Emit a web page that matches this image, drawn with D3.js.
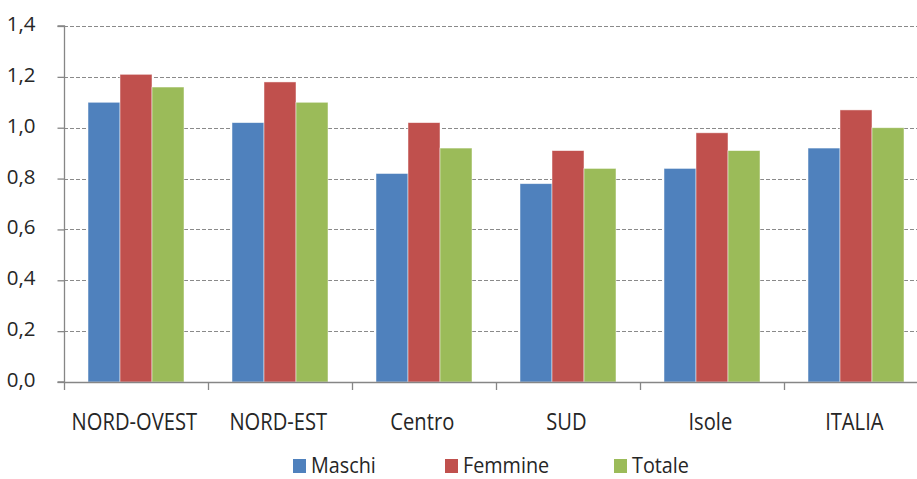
<!DOCTYPE html>
<html>
<head>
<meta charset="utf-8">
<script src="https://cdn.jsdelivr.net/npm/d3@7"></script>
<style>
  html, body { margin: 0; padding: 0; background: #fff; }
  svg { display: block; }
  text { font-family: "Open Sans", "Noto Sans", sans-serif; fill: #262626; }
</style>
</head>
<body>
<svg id="chart" width="917" height="479"></svg>
<script>
// Regions and series values
const categories = ["NORD-OVEST", "NORD-EST", "Centro", "SUD", "Isole", "ITALIA"];
const seriesNames = ["Maschi", "Femmine", "Totale"];
const maschi  = [1.10, 1.02, 0.82, 0.78, 0.84, 0.92];
const femmine = [1.21, 1.18, 1.02, 0.91, 0.98, 1.07];
const totale  = [1.16, 1.10, 0.92, 0.84, 0.91, 1.00];
const yTicks = [0, 0.2, 0.4, 0.6, 0.8, 1.0, 1.2, 1.4];
const colors = ["#4F81BD", "#C0504D", "#9BBB59"];

const series = [maschi, femmine, totale];
const svg = d3.select("#chart");

// The last category runs past the right edge of the frame
const x = d3.scaleBand().domain(categories).range([64, 928]);
const inner = d3.scaleBand().domain(seriesNames).range([0, x.bandwidth()]).paddingOuter(0.75).paddingInner(0);
const y = d3.scaleLinear().domain([0, 1.4]).range([382, 26]);

const fmt = d => d3.format(".1f")(d).replace(".", ",");

// Dashed gridlines
svg.append("g")
  .selectAll("line")
  .data(yTicks.filter(d => d > 0))
  .join("line")
  .attr("x1", 64).attr("x2", 917)
  .attr("y1", d => Math.round(y(d)) + 0.5).attr("y2", d => Math.round(y(d)) + 0.5)
  .attr("stroke", "#8a8a8a").attr("stroke-width", 1.2)
  .attr("stroke-dasharray", "4,2");

// Bars
const groups = svg.append("g")
  .selectAll("g")
  .data(categories)
  .join("g")
  .attr("transform", d => `translate(${x(d)},0)`);

groups.selectAll("rect")
  .data((c, i) => seriesNames.map((s, k) => ({ s, k, v: series[k][i] })))
  .join("rect")
  .attr("x", d => inner(d.s))
  .attr("width", inner.bandwidth())
  .attr("y", d => y(d.v))
  .attr("height", d => y(0) - y(d.v))
  .attr("fill", d => colors[d.k])
  .attr("stroke", "rgba(255,255,255,0.6)")
  .attr("stroke-width", 0.8);

// Y axis
const yAxis = d3.axisLeft(y).tickValues(yTicks).tickFormat(fmt).tickSize(7).tickPadding(22);
const gy = svg.append("g").attr("transform", "translate(64.5,0)").call(yAxis);
gy.select(".domain").attr("stroke", "#868686").attr("stroke-width", 1.3).attr("d", `M-7,${y(1.4)}H0V${y(0)}H-7`);
gy.selectAll(".tick line").attr("stroke", "#868686").attr("stroke-width", 1.3);
gy.selectAll(".tick text").attr("font-size", 20.5).attr("dy", "0.22em")
  .attr("font-family", "Open Sans, sans-serif").attr("fill", "#262626");

// X axis
const xAxis = d3.axisBottom(x).tickSize(0).tickPadding(0);
const gx = svg.append("g").attr("transform", "translate(0,382.5)").call(xAxis);
gx.select(".domain").attr("stroke", "#868686").attr("stroke-width", 1.3).attr("d", "M64,0H917");
gx.selectAll(".tick text").attr("font-size", 24).attr("y", 48).attr("dy", 0).attr("x", -2)
  .attr("transform", "scale(0.84,1)")
  .attr("font-family", "Open Sans, sans-serif").attr("fill", "#262626");
// Category separators
svg.append("g")
  .selectAll("line")
  .data(categories)
  .join("line")
  .attr("x1", d => Math.round(x(d)) + 0.5).attr("x2", d => Math.round(x(d)) + 0.5)
  .attr("y1", 382).attr("y2", 390)
  .attr("stroke", "#868686").attr("stroke-width", 1.3);

// Legend
const legendX = [293, 445, 614];
const legend = svg.append("g")
  .selectAll("g")
  .data(seriesNames)
  .join("g")
  .attr("transform", (d, i) => `translate(${legendX[i]},459)`);
legend.append("rect").attr("width", 13).attr("height", 14).attr("fill", (d, i) => colors[i]);
legend.append("g").attr("transform", "translate(18,13.5)")
  .append("text").attr("font-size", 22).attr("transform", "scale(0.9,1)").text(d => d);
</script>
</body>
</html>
